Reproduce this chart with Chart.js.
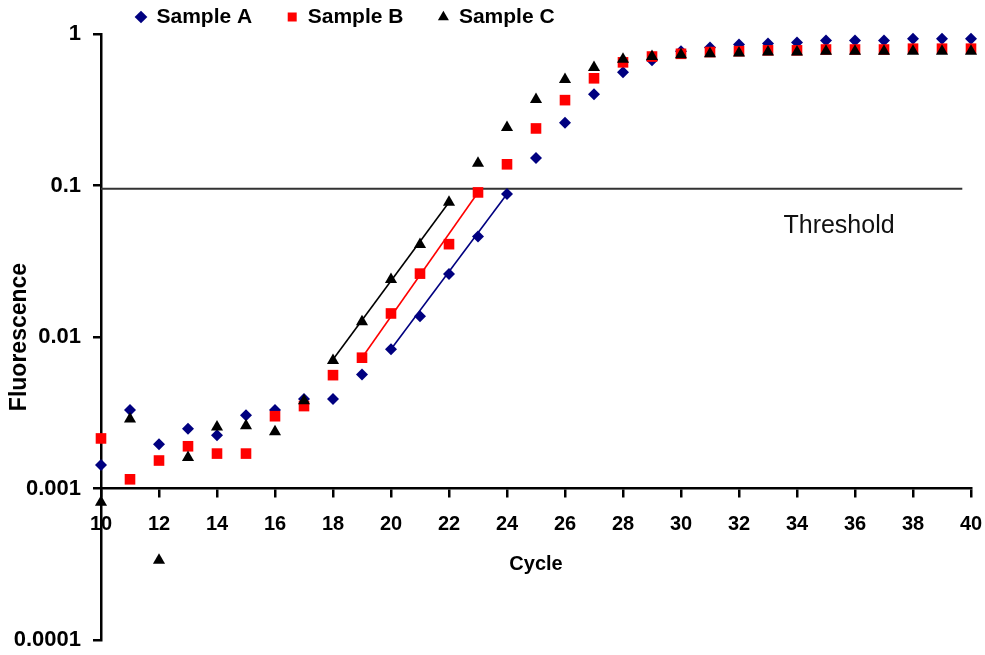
<!DOCTYPE html>
<html>
<head>
<meta charset="utf-8">
<title>Amplification plot</title>
<script src="https://cdn.jsdelivr.net/npm/chart.js@4.4.1/dist/chart.umd.min.js"></script>
<style>
    html, body { margin: 0; padding: 0; background: #fff; }
    #wrap { width: 985px; height: 655px; }
</style>
</head>
<body>
<div id="wrap"><canvas id="pcrChart"></canvas></div>
<script>
// cycle numbers on the x axis
const cycles = [10, 11, 12, 13, 14, 15, 16, 17, 18, 19, 20, 21, 22, 23, 24, 25,
    26, 27, 28, 29, 30, 31, 32, 33, 34, 35, 36, 37, 38, 39, 40];

// fluorescence, one value per cycle
const sampleA = [0.00143, 0.0033, 0.00196, 0.00248, 0.00225, 0.00305, 0.0033, 0.0039, 0.0039, 0.00565,
    0.0083, 0.0137, 0.0261, 0.046, 0.088, 0.152, 0.26, 0.40, 0.56, 0.67,
    0.77, 0.815, 0.853, 0.865, 0.88, 0.905, 0.905, 0.905, 0.93, 0.93, 0.93];
const sampleB = [0.00214, 0.00115, 0.00153, 0.0019, 0.0017, 0.0017, 0.0030, 0.0035, 0.0056, 0.0073,
    0.0143, 0.0262, 0.041, 0.090, 0.138, 0.238, 0.366, 0.51, 0.65, 0.71,
    0.74, 0.76, 0.77, 0.78, 0.78, 0.79, 0.79, 0.79, 0.80, 0.80, 0.80];
const sampleC = [0.00081, 0.00288, 0.000336, 0.0016, 0.00255, 0.0026, 0.00237, 0.0038, 0.0070, 0.0126,
    0.024, 0.0408, 0.0776, 0.14, 0.241, 0.37, 0.50, 0.60, 0.68, 0.71,
    0.73, 0.74, 0.75, 0.76, 0.76, 0.77, 0.77, 0.77, 0.77, 0.77, 0.77];

// log-linear fits over the exponential phase
const fitCyclesA = [20, 24];
const fitA = [0.0083, 0.088];
const fitCyclesB = [19, 23];
const fitB = [0.0073, 0.090];
const fitCyclesC = [18, 22];
const fitC = [0.0071, 0.0776];

const thresholdCycles = [10, 39.7];
const thresholdValue = 0.095;
const thresholdText = 'Threshold';
const thresholdTextAt = { cycle: 35.45, value: 0.0536 };

const yTicks = [0.0001, 0.001, 0.01, 0.1, 1];
const yTickLabels = ['0.0001', '0.001', '0.01', '0.1', '1'];
const sampleNames = ['Sample A', 'Sample B', 'Sample C'];

const fontFamily = '"Liberation Sans", Arial, sans-serif';
Chart.defaults.font.family = fontFamily;
Chart.defaults.color = '#000';

const toPoints = (xs, ys) => xs.map((x, i) => ({ x, y: ys[i] }));

const thresholdLabel = {
    id: 'thresholdLabel',
    afterDatasetsDraw(chart) {
        const { ctx, scales } = chart;
        ctx.save();
        ctx.font = '25px ' + fontFamily;
        ctx.fillStyle = '#111';
        ctx.textAlign = 'center';
        ctx.textBaseline = 'middle';
        ctx.fillText(thresholdText,
            scales.x.getPixelForValue(thresholdTextAt.cycle),
            scales.y.getPixelForValue(thresholdTextAt.value));
        ctx.restore();
    },
};

const markerSet = (label, values, color, pointStyle, radius, order) => ({
    label,
    data: toPoints(cycles, values),
    pointStyle,
    pointRadius: radius,
    pointHoverRadius: radius,
    pointBorderWidth: 0,
    backgroundColor: color,
    borderColor: color,
    showLine: false,
    clip: false,
    order,
});

const fitLine = (label, xs, ys, color) => ({
    label,
    data: toPoints(xs, ys),
    showLine: true,
    pointRadius: 0,
    borderColor: color,
    borderWidth: 1.6,
    order: 3,
});

const axisBlack = '#000';

new Chart(document.getElementById('pcrChart'), {
    type: 'scatter',
    data: {
        datasets: [
            markerSet(sampleNames[0], sampleA, '#000080', 'rectRot', 6, 2),
            markerSet(sampleNames[1], sampleB, '#ff0000', 'rect', 7.5, 1),
            markerSet(sampleNames[2], sampleC, '#000000', 'triangle', 7, 0),
            fitLine('fit A', fitCyclesA, fitA, '#000080'),
            fitLine('fit B', fitCyclesB, fitB, '#ff0000'),
            fitLine('fit C', fitCyclesC, fitC, '#000000'),
            {
                label: thresholdText,
                data: thresholdCycles.map((x) => ({ x, y: thresholdValue })),
                showLine: true,
                pointRadius: 0,
                borderColor: '#333',
                borderWidth: 2,
                order: 4,
            },
        ],
    },
    options: {
        responsive: true,
        maintainAspectRatio: false,
        animation: false,
        events: [],
        layout: {
            autoPadding: false,
            padding: { top: -28.5, right: 14, bottom: 15, left: 0 },
        },
        plugins: {
            legend: {
                position: 'top',
                align: 'start',
                fullSize: false,
                maxHeight: 62.5,
                labels: {
                    usePointStyle: true,
                    boxWidth: 10,
                    boxHeight: 9,
                    padding: 35,
                    color: '#000',
                    font: { size: 21, weight: 'bold' },
                    filter: (item) => sampleNames.includes(item.text),
                    sort: (a, b) => a.datasetIndex - b.datasetIndex,
                },
            },
            tooltip: { enabled: false },
        },
        scales: {
            x: {
                type: 'linear',
                min: 10,
                max: 40,
                position: { y: 0.001 },
                afterFit: (scale) => {
                    // end labels may hang past the plot edge
                    scale.paddingLeft = 0;
                    scale.paddingRight = 0;
                },
                ticks: {
                    stepSize: 2,
                    padding: 16,
                    color: '#000',
                    font: { size: 20, weight: 'bold' },
                },
                grid: {
                    drawOnChartArea: false,
                    drawTicks: true,
                    tickLength: 8,
                    color: axisBlack,
                    lineWidth: 2.5,
                },
                border: { display: true, color: axisBlack, width: 2.5 },
                title: {
                    display: true,
                    text: 'Cycle',
                    color: '#000',
                    font: { size: 20, weight: 'bold' },
                    padding: { top: 0, bottom: 0 },
                },
            },
            y: {
                type: 'logarithmic',
                min: 0.0001,
                max: 1,
                position: 'left',
                afterBuildTicks: (scale) => {
                    scale.ticks = yTicks.map((value) => ({ value }));
                },
                afterFit: (scale) => {
                    scale.width = 101;
                    scale.paddingTop = 0;
                    scale.paddingBottom = 0;
                },
                ticks: {
                    padding: 12,
                    color: '#000',
                    font: { size: 22, weight: 'bold' },
                    callback: (value, index) => yTickLabels[index],
                },
                grid: {
                    drawOnChartArea: false,
                    drawTicks: true,
                    tickLength: 8,
                    color: axisBlack,
                    lineWidth: 2.5,
                },
                border: { display: true, color: axisBlack, width: 2.5 },
                title: {
                    display: true,
                    text: 'Fluorescence',
                    color: '#000',
                    font: { size: 23, weight: 'bold' },
                    padding: { top: 6, bottom: 0 },
                },
            },
        },
    },
    plugins: [thresholdLabel],
});
</script>
</body>
</html>
